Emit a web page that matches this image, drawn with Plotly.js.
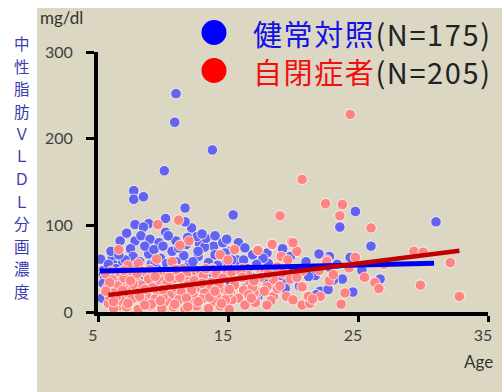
<!DOCTYPE html>
<html>
<head>
<meta charset="utf-8">
<script src="https://cdn.plot.ly/plotly-3.0.1.min.js"></script>
<style>html,body{margin:0;padding:0;background:#fff;}#chart{width:502px;height:392px;}</style>
</head>
<body>
<div id="chart"></div>
<script>
// ---- data ----
const xTicks = [5, 15, 25, 35];
const yTicks = [0, 100, 200, 300];
const seriesNames = ["健常対照", "自閉症者"];
const seriesN = ["(N=175)", "(N=205)"];
const yUnit = "mg/dl";
const xLabel = "Age";
const yTitle = "中性脂肪ＶＬＤＬ分画濃度";

const controlAge = [11.0,10.9,13.8,10.1,7.75,7.75,8.5,11.7,10.2,7.85,8.9,8.5,12.2,11.7,15.4,24.8,23.6,31.0,26.0,22.0,22.8,24.4,22.8,21.3,21.7,23.8,23.1,26.7,22.1,22.7,24.6,6.7,7.85,7.5,8.9,7.7,5.2,6.1,12.8,13.9,14.6,14.9,10.7,11.6,12.7,13.2,15.2,14.9,6.3,5.4,5.4,5.5,5.4,5.3,18.0,19.2,15.7,16.2,15.3,18.1,19.5,19.4,17.3,17.1,21.2,
 9.8,10.3,11.0,12.0,13.5,14.2,8.2,9.1,6.9,7.3,8.0,9.5,10.8,12.4,13.8,15.0,16.5,17.5,6.2,7.0,8.7,10.0,11.3,12.9,14.5,16.0,6.0,7.5,9.2,10.6,12.1,13.6,15.3,16.8,18.6,20.2,6.5,8.3,10.2,11.8,13.3,14.8,16.4,18.2,9.0,11.0,12.6,14.0,15.8,7.2,20.0,21.0,23.4,25.3,17.7,16.9,19.8,8.6,9.7,10.4,11.9,13.0,9.3,6.0,5.8,7.1,
 6.8,8.1,9.9,11.5,13.1,14.2,6.4,8.9,10.5,12.2,13.7,15.5,7.9,11.8,14.9,9.6,12.8,10.9,8.0,13.9,15.2,17.9,19.0,6.6,12.3,10.0,11.2,16.3,17.2,20.5,21.8,7.6,5.9,9.4,12.7,14.0,16.8];
const controlVldl = [252,219,187,163,140,130,133,120,108,101,102,98,97,104,112,116,98,104,76,67,64,63,52,41,42,38,37,38,24,26,23,82,82,73,67,64,61,62,79,76,80,84,70,65,64,75,70,58,54,48,43,39,33,16,68,73,60,60,60,56,35,27,18,14,41,
 62,56,58,55,57,54,58,55,57,49,46,50,52,49,50,52,50,48,44,40,42,44,45,42,45,44,28,30,34,36,33,35,38,40,45,50,70,88,92,78,85,68,28,32,84,82,87,88,80,91,46,58,55,48,62,66,64,76,80,88,86,90,72,70,55,60,
 35,38,40,38,37,40,50,48,47,46,46,48,54,51,47,30,29,16,17,19,32,38,42,66,58,76,74,74,55,30,20,25,22,58,70,66,35];

const autismAge = [24.4,20.7,22.5,23.8,23.6,26.0,19.0,29.3,30.0,32.1,24.8,22.6,24.3,22.8,26.3,26.6,29.8,32.8,21.1,21.4,22.1,23.7,20.7,21.3,11.2,9.6,6.6,12.0,11.3,9.5,10.7,14.4,7.3,8.1,15.5,17.3,18.4,19.9,20.3,19.1,19.6,17.3,18.4,20.0,22.6,20.7,18.5,18.0,17.3,17.0,18.5,19.5,20.0,21.2,21.5,16.7,16.2,15.8,16.3,15.2,15.3,5.8,5.9,6.6,7.1,15.0,
 6.0,7.8,9.0,10.2,11.5,12.6,13.8,14.9,16.1,17.6,18.8,
 5.6,6.7,7.5,8.4,9.6,10.6,11.8,12.9,14.1,15.3,16.5,17.8,19.2,
 6.1,7.0,8.0,8.9,9.8,10.9,11.9,12.8,13.7,14.6,15.6,17.5,19.8,
 5.7,6.5,7.4,8.3,9.2,10.1,11.0,11.9,12.8,13.6,14.5,15.5,16.9,18.8,
 6.2,7.0,7.9,8.7,9.6,10.5,11.4,12.3,13.2,14.1,15.0,16.6,17.8,
 6.8,7.6,8.5,9.4,10.3,11.2,12.1,13.0,13.9,14.8,17.1,18.3,
 6.2,7.2,8.1,9.0,9.9,10.8,11.7,12.6,13.5,14.4,15.1,
 5.9,6.9,7.7,8.6,9.4,10.3,11.3,12.2,13.1,14.3,15.1,16.0,6.4,7.3,8.2,9.1,10.0,10.9,11.8,12.7,13.6,14.5,7.0,8.6,10.0,11.0,12.4,13.3,14.0,6.2,5.6,16.8,18.0,19.0,17.0,18.1,9.8,8.0,11.9,13.0,7.5,10.5,16.1,20.7,20.3,22.0,23.1,25.5,27.0,24.0];
const autismVldl = [228,153,125,124,111,97,111,70,69,57,63,60,51,36,34,27,31,18,18,14,18,9,8,10,106,101,72,82,77,61,58,66,54,56,72,72,77,81,70,64,60,71,78,80,58,47,37,29,23,22,18,18,14,18,15,34,25,16,8,23,14,10,18,7,33,60,
 47,45,49,44,50,45,49,44,50,48,52,
 44,46,42,47,44,46,43,47,44,46,43,47,45,
 37,39,35,38,36,39,35,38,34,39,36,40,38,
 28,30,27,31,28,30,27,31,28,30,27,31,29,27,
 22,20,23,19,22,19,23,20,22,19,21,20,24,
 13,15,12,15,12,14,11,15,12,14,11,13,
 4,6,3,7,4,6,3,7,4,7,3,
 34,25,32,26,41,33,40,25,42,32,26,47,17,10,18,9,17,9,16,12,17,10,48,8,26,49,36,50,24,12,24,16,8,30,36,44,13,44,6,33,36,40,40,29,40,48,43,40,55,22];

const controlTrendAge = [5.15, 30.85];
const controlTrendVldl = [47.3, 56.2];
const autismTrendAge = [5.8, 32.8];
const autismTrendVldl = [19.6, 70.7];

// ---- layout helpers ----
const W = 502, H = 392;
const M = {l: 98, r: 14, t: 52, b: 80};
const pw = W - M.l - M.r, ph = H - M.t - M.b;
const px = v => (v - M.l) / pw;
const py = v => 1 - (v - M.t) / ph;

const beige = '#dcd7c3';
const blueDot = '#6363f0';
const redDot = '#fe8383';

const traces = [
  {x: controlAge, y: controlVldl, type: 'scatter', mode: 'markers', cliponaxis: false,
   marker: {color: blueDot, size: 10.5, line: {color: 'rgba(255,255,255,0.75)', width: 1}}, hoverinfo: 'skip'},
  {x: autismAge, y: autismVldl, type: 'scatter', mode: 'markers', cliponaxis: false,
   marker: {color: redDot, size: 10.5, line: {color: 'rgba(255,255,255,0.75)', width: 1}}, hoverinfo: 'skip'},
  {x: controlTrendAge, y: controlTrendVldl, type: 'scatter', mode: 'lines', line: {color: '#0000f0', width: 5}},
  {x: autismTrendAge, y: autismTrendVldl, type: 'scatter', mode: 'lines', line: {color: '#c00000', width: 4.5}}
];

const ls = 'letter-spacing:1.6px;';
const annotations = [
  {xref: 'paper', yref: 'paper', x: px(61), y: py(17), text: yUnit, showarrow: false,
   xanchor: 'center', yanchor: 'middle', font: {family: 'Lato, sans-serif', size: 17, color: '#333'}},
  {xref: 'paper', yref: 'paper', x: px(478), y: py(361), text: xLabel, showarrow: false,
   xanchor: 'center', yanchor: 'middle', font: {family: 'Lato, sans-serif', size: 17, color: '#333'}},
  {xref: 'paper', yref: 'paper', x: px(251), y: py(33), xanchor: 'left', yanchor: 'middle', showarrow: false,
   text: '<span style="color:#1212e6;' + ls + '">' + seriesNames[0] + '</span><span style="' + ls + '">' + seriesN[0] + '</span>',
   font: {family: '"Noto Sans CJK JP", sans-serif', size: 29, color: '#222'}},
  {xref: 'paper', yref: 'paper', x: px(251), y: py(71), xanchor: 'left', yanchor: 'middle', showarrow: false,
   text: '<span style="color:#f01010;' + ls + '">' + seriesNames[1] + '</span><span style="' + ls + '">' + seriesN[1] + '</span>',
   font: {family: '"Noto Sans CJK JP", sans-serif', size: 29, color: '#222'}}
];
// vertical (stacked) y-axis title, one character per row
Array.from(yTitle).forEach((ch, i) => {
  annotations.push({xref: 'paper', yref: 'paper', x: px(22), y: py(43 + i * 22.5), text: ch, showarrow: false,
    xanchor: 'center', yanchor: 'middle', font: {family: '"Noto Sans CJK JP", sans-serif', size: 15.5, color: '#3b3bb0'}});
});

const shapes = [
  {type: 'rect', xref: 'paper', yref: 'paper', x0: px(37), x1: px(503), y0: py(393), y1: py(8),
   fillcolor: beige, line: {width: 0}, layer: 'below'},
  {type: 'circle', xref: 'paper', yref: 'paper', xsizemode: 'pixel', ysizemode: 'pixel',
   xanchor: px(214), yanchor: py(32.5), x0: -12.5, x1: 12.5, y0: -12.5, y1: 12.5,
   fillcolor: '#0000ff', line: {width: 0}},
  {type: 'circle', xref: 'paper', yref: 'paper', xsizemode: 'pixel', ysizemode: 'pixel',
   xanchor: px(214), yanchor: py(70.5), x0: -12.5, x1: 12.5, y0: -12.5, y1: 12.5,
   fillcolor: '#ff0000', line: {width: 0}}
];

const axisCommon = {
  showgrid: false, zeroline: false, showline: true, linecolor: '#000', linewidth: 4,
  ticks: 'outside', tickwidth: 3, tickcolor: '#000', tickmode: 'array',
  tickfont: {family: 'Lato, sans-serif', size: 16, color: '#404040'}, fixedrange: true
};

const layout = {
  width: W, height: H, margin: M, showlegend: false,
  paper_bgcolor: '#ffffff', plot_bgcolor: 'rgba(0,0,0,0)',
  xaxis: Object.assign({}, axisCommon, {range: [5, 35], tickvals: xTicks, ticktext: xTicks.map(String), ticklen: 6, ticklabelshift: -5, ticklabelstandoff: 0}),
  yaxis: Object.assign({}, axisCommon, {range: [0, 300], tickvals: yTicks, ticktext: yTicks.map(String), ticklen: 8, ticklabelstandoff: 10}),
  annotations: annotations, shapes: shapes
};

Plotly.newPlot('chart', traces, layout, {displayModeBar: false, staticPlot: true});
</script>
</body>
</html>
